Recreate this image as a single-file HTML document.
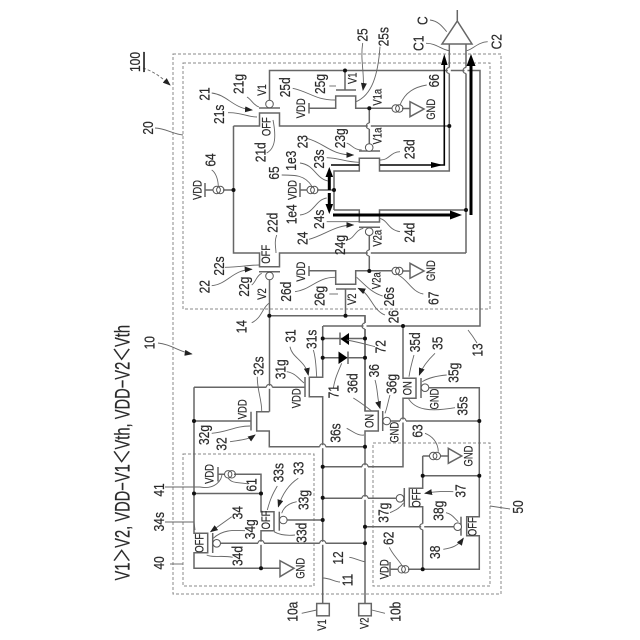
<!DOCTYPE html>
<html><head><meta charset="utf-8"><style>
html,body{margin:0;padding:0;background:#fff}
svg{display:block}
text{font-family:"Liberation Sans","Noto Sans CJK JP",sans-serif;fill:#2a2a2a;stroke:#2a2a2a;stroke-width:.2;text-anchor:middle;dominant-baseline:central}
.l text{font-size:15px}
.s text{font-size:11.5px}
.w{fill:none;stroke:#666;stroke-width:1.5}
.d{fill:none;stroke:#888;stroke-width:1;stroke-dasharray:3 2}
.t{fill:none;stroke:#666;stroke-width:.9}
.k{fill:none;stroke:#000;stroke-width:1.6}
.K{fill:none;stroke:#000;stroke-width:3}
</style></head><body>
<svg width="640" height="640" viewBox="0 0 640 640" xmlns="http://www.w3.org/2000/svg">
<defs>
<marker id="a" markerWidth="8" markerHeight="6" refX="7" refY="3" orient="auto" markerUnits="userSpaceOnUse"><path d="M0 0L8 3L0 6Z" fill="#222"/></marker>
<g id="bv"><path d="M0-3V3" stroke="#fff" stroke-width="3"/><path d="M0-3A3 3 0 0 0 0 3" fill="none" stroke="#666" stroke-width="1.2"/></g>
<g id="bh"><path d="M-3 0H3" stroke="#fff" stroke-width="3"/><path d="M-3 0A3 3 0 0 1 3 0" fill="none" stroke="#666" stroke-width="1.2"/></g>
<g id="cs"><circle cx="-1.8" cy="0" r="3.7" fill="#fff" stroke="#555"/><circle cx="1.8" cy="0" r="3.7" fill="none" stroke="#555"/></g>
</defs>
<rect class="d" x="173" y="54" width="328" height="540"/>
<rect class="d" x="183" y="63" width="307" height="246"/>
<rect class="d" x="183" y="454" width="131" height="132"/>
<rect class="d" x="373" y="443" width="117" height="143"/>

<g class="w">
<path d="M233.5 126H259.5V113H279.5V126H449.3"/>
<path d="M259 108H280"/>
<path d="M269.5 100V70.5H480V326H323"/>
<path d="M233.5 126V253H259.5V266.7H279.5V253H466"/>
<path d="M259 271.7H280"/>
<path d="M269.5 280V315.7H365V411"/>
<path d="M269.5 315.7V411.7"/>
<path d="M309 103V113.5M309 108.3H335.7V96H355.7V108.3H392"/>
<path d="M336 90H356M345 70.5V90"/>
<path d="M369.3 108.3V143.5"/>
<path d="M359 151H380"/>
<path d="M402 108.5H410"/>
<path d="M410 101.7V116.7L424 109Z" />
<path d="M334 210V171H359.3V158.3H379.5V171H449.3V44"/>
<path d="M334 210H359.3V222H379.5V210H466"/>
<path d="M359 227.3H380"/>
<path d="M369.3 236V271"/>
<path d="M466 44V253"/>
<path d="M309 266V276M309 270.7H335.7V284.3H355.7V270.7H392"/>
<path d="M336 289H356M345.5 289V315.7"/>
<path d="M402 271H410"/>
<path d="M410 263.3V278.3L424 271Z"/>
<path d="M205 183V197M205 190H214M223 190H233.5"/>
<path d="M300 183V197M300 190H308M317 190H334"/>
<path d="M457.3 10V21M442 44H472L457.3 21Z"/>
<path d="M322.7 326V377.3H309.3V396.7H322.7V603.5"/>
<path d="M305 377V397"/>
<path d="M194 387.3H305"/>
<path d="M194 387.3V533.3H207.7V552.7H194V568.3H280"/>
<path d="M212.7 533V553"/>
<path d="M280 560.7V576.7L294 568.3Z"/>
<path d="M365 315.7V411H378.3V431H365V603.5"/>
<path d="M382.7 411V431"/>
<path d="M390.7 421H479.3"/>
<path d="M322.7 338.5H365M322.7 357.7H365"/>
<path d="M340 332.5V345M348 351.5V364"/>
<path d="M403 326V378.3H416V398.3H403V466.7H322.7"/>
<path d="M421 378V398"/>
<path d="M429 387.7H479.3V516.7H466.7V535.7H479.3V569.3H408"/>
<path d="M461 516.7V535.7"/>
<path d="M365 526.7H454"/>
<path d="M194 421H251M251 411.7V430.5"/>
<path d="M269.3 411.7H256.7V431H269.3V446.7H365"/>
<path d="M194 493.5H261V474.3H234M218 467V481.5M218 474.3H226"/>
<path d="M261 493.5V511.7H274V530.7H261V568.3"/>
<path d="M279.3 511.7V530.7"/>
<path d="M287.3 520H322.7"/>
<path d="M220.7 543.3H365"/>
<path d="M322.7 498.3H396M404.3 488V506.7"/>
<path d="M422.7 456V488.3H409.3V506.7H422.7V569.3"/>
<path d="M422.7 456H431M440 456H448.3"/>
<path d="M448.3 448.3V463.3L461.7 456Z"/>
<path d="M422.7 475.7H479.3"/>
<path d="M390 562V576M390 569.3H399"/>
<rect x="316.7" y="603.5" width="12.6" height="12.3"/>
<rect x="358.7" y="603.5" width="12.6" height="12.3"/>
</g>
<g fill="#fff" stroke="#555" stroke-width="1">
<circle cx="269.5" cy="104" r="3.8"/><circle cx="369.2" cy="147.5" r="3.8"/><circle cx="369.2" cy="231.7" r="3.8"/><circle cx="269.5" cy="276" r="3.8"/>
<circle cx="425" cy="387.7" r="3.8"/><circle cx="386.7" cy="421" r="3.8"/><circle cx="283.3" cy="520" r="3.8"/><circle cx="216.7" cy="543.3" r="3.8"/><circle cx="400" cy="498.3" r="3.8"/><circle cx="457.7" cy="526.7" r="3.8"/>
</g>
<use href="#cs" x="397.5" y="108.5"/><use href="#cs" x="397.5" y="271"/><use href="#cs" x="218.5" y="190"/><use href="#cs" x="312.5" y="190"/><use href="#cs" x="230" y="474.3"/><use href="#cs" x="435" y="456"/><use href="#cs" x="403.5" y="569.3"/>
<use href="#bv" x="449.3" y="70.5"/><use href="#bv" x="466" y="70.5"/><use href="#bv" x="369.3" y="126"/><use href="#bv" x="369.3" y="253"/><use href="#bv" x="365" y="326"/><use href="#bv" x="422.7" y="526.7"/>
<use href="#bh" x="269.3" y="387.3"/><use href="#bh" x="322.7" y="446.7"/><use href="#bh" x="403" y="421"/><use href="#bh" x="365" y="466.7"/><use href="#bh" x="365" y="498.3"/><use href="#bh" x="261" y="543.3"/><use href="#bh" x="322.7" y="543.3"/>
<path class="k" d="M331 165H359M380 165H444.3V60"/>
<path d="M444.3 54L441 65H447.6Z" fill="#000"/>
<path d="M443 165L431 162V168Z" fill="#000"/>
<path class="K" d="M333 215H452M471 215V60"/>
<path d="M462 215L450 210.5V219.5Z" fill="#000"/>
<path d="M471 54L466.5 66H475.5Z" fill="#000"/>
<path class="K" d="M329.3 190V176M329.3 193V206"/>
<path d="M329.3 167L325.5 177H333.1Z" fill="#000"/>
<path d="M329.3 214L325.5 204H333.1Z" fill="#000"/>
<path d="M340.5 339L349 333V345Z" fill="#000"/><path d="M338.5 351.5L347.5 357.7L338.5 364Z" fill="#000"/>
<g fill="#111">
<circle cx="449.3" cy="126" r="2"/><circle cx="369.3" cy="108.3" r="2"/><circle cx="345" cy="70.5" r="2"/><circle cx="233.5" cy="190" r="2"/><circle cx="334" cy="190" r="2"/><circle cx="466" cy="210" r="2"/><circle cx="369.3" cy="271" r="2"/><circle cx="345.5" cy="315.7" r="2"/><circle cx="269.3" cy="315.7" r="2"/><circle cx="403" cy="326" r="2"/>
<circle cx="322.7" cy="338.5" r="2"/><circle cx="365" cy="338.5" r="2"/><circle cx="322.7" cy="357.7" r="2"/><circle cx="365" cy="357.7" r="2"/><circle cx="479.3" cy="421" r="2"/><circle cx="365" cy="446.7" r="2"/><circle cx="322.7" cy="466.7" r="2"/><circle cx="422.7" cy="475.7" r="2"/><circle cx="479.3" cy="475.7" r="2"/>
<circle cx="194" cy="421" r="2"/><circle cx="194" cy="493.5" r="2"/><circle cx="261" cy="493.5" r="2"/><circle cx="322.7" cy="497.8" r="2"/><circle cx="322.7" cy="520" r="2"/><circle cx="365" cy="526.7" r="2"/><circle cx="365" cy="543.3" r="2"/><circle cx="261" cy="568.3" r="2"/><circle cx="422.7" cy="569.3" r="2"/>
</g>
<g class="t">
<path d="M211.7 93C228 95 232 108 252 110" marker-end="url(#a)"/>
<path d="M247 97C252 100 253 105 259 107"/><path d="M228 112.7C240 112 248 117 257 117"/><path d="M266.7 153C276 148 276 135 273 120"/>
<path d="M292.7 88.3C310 92 315 100 335 100"/><path d="M329.3 86H336"/><path d="M362.7 43C360 60 365 75 363 90" marker-end="url(#a)"/><path d="M380 46.7C378 75 372 95 356 101.7"/><path d="M426.7 85C415 87 405 92 400 105"/>
<path d="M306.7 138.3C325 143 330 155 353.3 155" marker-end="url(#a)"/><path d="M346.7 143C352 145 354 150 361.7 150"/><path d="M326.7 157.7C340 158 345 162 359 162.3"/><path d="M300 163C315 165 315 178 328 181"/><path d="M380 160C390 160 390 152 400 151.7"/><path d="M281.7 175C295 175 305 175 311.7 186"/><path d="M211.7 170C215 172 218 178 218.3 186"/>
<path d="M300 215C315 213 315 200 326.7 198"/><path d="M326.7 221.7H359"/><path d="M309 239.3C325 235 335 225 353.3 225" marker-end="url(#a)"/><path d="M347.3 240C355 238 355 230 363.3 228.3"/><path d="M400 231.7C388 230 388 220 379.3 218.3"/>
<path d="M276.7 235C274 242 276 248 276 253"/><path d="M225 267.3C240 267 248 265 259.3 265"/><path d="M211.7 285.7C228 284 232 270 251.7 269.3" marker-end="url(#a)"/><path d="M251.7 285C256 282 256 276 261.7 273.3"/><path d="M251.7 322.7C262 318 262 308 269 303.3"/>
<path d="M295 291.7C310 290 318 277 335 277.3"/><path d="M329.3 294H338"/><path d="M382.7 296C372 293 365 285 356.7 277.3"/><path d="M385 315C372 310 372 295 358.3 288.3" marker-end="url(#a)"/><path d="M423.3 294C412 292 408 280 398.3 275"/>
<path d="M257.3 376.7C257 390 262 400 261.7 411.7"/><path d="M290 346.7C292 358 305 360 308.3 375" marker-end="url(#a)"/><path d="M313.3 350C316 358 316 368 316.7 376.7"/><path d="M286.7 371.7C295 373 298 378 304 383"/><path d="M211.7 433.3C228 432 235 426 250 426"/><path d="M230 441.7C240 440 248 440 255 435" marker-end="url(#a)"/><path d="M248.3 484C240 482 232 484 228.3 478.3"/>
<path d="M277.3 486C272 495 270 500 267.3 510"/><path d="M298.3 478.3C288 485 282 495 278.3 506.7" marker-end="url(#a)"/><path d="M296.7 501.7C290 503 284 506 281.7 513.3"/><path d="M295 535C285 536 278 534 274 531.7"/><path d="M231.7 516.7L210.7 531.7" marker-end="url(#a)"/><path d="M245 530.7C232 530 222 530 213.3 538.3"/><path d="M232.7 557.3C222 555 212 558 206.7 555"/>
<path d="M333.3 388.3C335 378 338 372 341.7 363.3"/><path d="M375 346.7C365 344 358 342 346.7 340"/><path d="M353.3 398C360 402 365 406 371.7 411"/><path d="M375 380C378 390 377 398 380 408.3" marker-end="url(#a)"/><path d="M390 395C388 402 387 408 385 413.3"/><path d="M346.7 428.3C354 432 358 436 364 435"/>
<path d="M414 355C412 362 410 370 409 376.7"/><path d="M435 353.3C428 360 422 368 419.3 375" marker-end="url(#a)"/><path d="M446.7 375C435 376 428 378 422.3 381.7"/><path d="M455 407.7C430 412 415 410 408.3 398.3"/><path d="M425 433.3C432 436 438 442 438.3 451.7"/><path d="M453.3 491.7C442 491 432 492 425 493.3" marker-end="url(#a)"/><path d="M390 512.7C396 510 400 508 403.3 503.3"/><path d="M446 512.7C452 514 454 518 458.3 521.7"/><path d="M443.3 549.3C452 548 458 546 463.3 538.3" marker-end="url(#a)"/><path d="M389.3 547.3C393 555 397 558 401.7 565"/>
<path d="M301.7 613.3L316.7 610"/><path d="M385 613.3L371.7 610"/><path d="M349.3 557.3C355 558 360 561 365 561.7"/><path d="M322.7 578C330 578 335 582 340 582"/>
<path d="M430 20C438 21 442 26 446.7 31.7"/><path d="M426 43.3C436 43 442 50 449.3 50.7"/><path d="M487.7 41.7C478 42 472 50 466.7 50.7"/>
<path d="M158 343C170 344 180 352 191.7 354" marker-end="url(#a)"/><path d="M155 128C165 128 172 134 183 135"/><path d="M165 487H200C215 490 222 480 222 474"/><path d="M165 522H194L195 530"/><path d="M170 564H183"/><path d="M468 330C472 335 474 338 477 343"/><path d="M490 506L510 509" /><path d="M143 68C155 72 162 78 170 85" stroke-dasharray="3 2" marker-end="url(#a)"/>
</g>
<g class="l">
<text transform="matrix(0 -.8 1 0 204.3 94)">21</text><text transform="matrix(0 -.8 1 0 238.3 84)">21g</text><text transform="matrix(0 -.8 1 0 285 87.3)">25d</text><text transform="matrix(0 -.8 1 0 320 84)">25g</text><text transform="matrix(0 -.8 1 0 219 114.3)">21s</text><text transform="matrix(0 -.8 1 0 260.7 152.3)">21d</text><text transform="matrix(0 -.8 1 0 302.3 141.7)">23</text><text transform="matrix(0 -.8 1 0 319 159)">23s</text><text transform="matrix(0 -.8 1 0 291 160.7)">1e3</text><text transform="matrix(0 -.8 1 0 210.7 160)">64</text><text transform="matrix(0 -.8 1 0 274 173)">65</text>
<text transform="matrix(0 -.8 1 0 362.7 35)">25</text><text transform="matrix(0 -.8 1 0 383.3 36.7)">25s</text><text transform="matrix(0 -.8 1 0 434 80.7)">66</text><text transform="matrix(0 -.8 1 0 409.3 149.3)">23d</text><text transform="matrix(0 -.8 1 0 422.7 20.7)">C</text><text transform="matrix(0 -.8 1 0 418.3 43.3)">C1</text><text transform="matrix(0 -.8 1 0 496.7 41.7)">C2</text><text transform="matrix(0 -.8 1 0 340 138.3)">23g</text>
<text transform="matrix(0 -.8 1 0 272.7 222.7)">22d</text><text transform="matrix(0 -.8 1 0 291.7 214.3)">1e4</text><text transform="matrix(0 -.8 1 0 319 219.3)">24s</text><text transform="matrix(0 -.8 1 0 302.3 238.3)">24</text><text transform="matrix(0 -.8 1 0 219 266)">22s</text><text transform="matrix(0 -.8 1 0 204.3 286.7)">22</text><text transform="matrix(0 -.8 1 0 244 286.7)">22g</text><text transform="matrix(0 -.8 1 0 286 291.7)">26d</text><text transform="matrix(0 -.8 1 0 319.3 296)">26g</text><text transform="matrix(0 -.8 1 0 241.7 326.7)">14</text><text transform="matrix(0 -.8 1 0 340 245)">24g</text>
<text transform="matrix(0 -.8 1 0 409.3 232.7)">24d</text><text transform="matrix(0 -.8 1 0 433.3 298.3)">67</text><text transform="matrix(0 -.8 1 0 389 296.7)">26s</text><text transform="matrix(0 -.8 1 0 393.3 316.7)">26</text>
<text transform="matrix(0 -.8 1 0 149.3 342.7)">10</text><text transform="matrix(0 -.8 1 0 159 490)">41</text><text transform="matrix(0 -.8 1 0 159 521.7)">34s</text><text transform="matrix(0 -.8 1 0 159 563)">40</text><text transform="matrix(0 -.8 1 0 148 128)">20</text><text transform="matrix(0 -.8 1 0 135 62)" text-decoration="underline">100</text>
<text transform="matrix(0 -.8 1 0 258.3 366)">32s</text><text transform="matrix(0 -.8 1 0 290.7 336)">31</text><text transform="matrix(0 -.8 1 0 311.7 339.3)">31s</text><text transform="matrix(0 -.8 1 0 280.7 369.3)">31g</text><text transform="matrix(0 -.8 1 0 333.3 391.7)">71</text><text transform="matrix(0 -.8 1 0 335.7 433)">36s</text><text transform="matrix(0 -.8 1 0 204 435)">32g</text><text transform="matrix(0 -.8 1 0 221.7 444)">32</text><text transform="matrix(0 -.8 1 0 251.7 485)">61</text><text transform="matrix(0 -.8 1 0 278.3 472.7)">33s</text><text transform="matrix(0 -.8 1 0 298.3 468.3)">33</text>
<text transform="matrix(0 -.8 1 0 380.7 346.7)">72</text><text transform="matrix(0 -.8 1 0 415 342.3)">35d</text><text transform="matrix(0 -.8 1 0 437.3 343.3)">35</text><text transform="matrix(0 -.8 1 0 453.3 372.7)">35g</text><text transform="matrix(0 -.8 1 0 352.7 383.3)">36d</text><text transform="matrix(0 -.8 1 0 374 370.7)">36</text><text transform="matrix(0 -.8 1 0 391.7 384)">36g</text><text transform="matrix(0 -.8 1 0 462.3 406)">35s</text><text transform="matrix(0 -.8 1 0 417.3 431)">63</text><text transform="matrix(0 -.8 1 0 477.3 350)">13</text><text transform="matrix(0 -.8 1 0 460.7 491)">37</text>
<text transform="matrix(0 -.8 1 0 303.3 500)">33g</text><text transform="matrix(0 -.8 1 0 237.7 512.7)">34</text><text transform="matrix(0 -.8 1 0 250 529.3)">34g</text><text transform="matrix(0 -.8 1 0 301.7 532.7)">33d</text><text transform="matrix(0 -.8 1 0 237.7 556)">34d</text><text transform="matrix(0 -.8 1 0 292.3 611.7)">10a</text><text transform="matrix(0 -.8 1 0 338 558)">12</text><text transform="matrix(0 -.8 1 0 347.3 580)">11</text>
<text transform="matrix(0 -.8 1 0 383.3 512.7)">37g</text><text transform="matrix(0 -.8 1 0 438.3 510.7)">38g</text><text transform="matrix(0 -.8 1 0 435 552.3)">38</text><text transform="matrix(0 -.8 1 0 388.3 538.3)">62</text><text transform="matrix(0 -.8 1 0 395.7 611.7)">10b</text><text transform="matrix(0 -.8 1 0 518 507)">50</text>
</g>
<g class="s">
<text transform="matrix(0 -.82 1 0 262.7 90)">V1</text><text transform="matrix(0 -.82 1 0 301.7 108.3)">VDD</text><text transform="matrix(0 -.82 1 0 267.3 126.7)">OFF</text><text transform="matrix(0 -.82 1 0 353.3 78.3)">V1</text><text transform="matrix(0 -.82 1 0 378.3 97.3)">V1a</text><text transform="matrix(0 -.82 1 0 431.7 109.3)">GND</text><text transform="matrix(0 -.82 1 0 378.3 136)">V1a</text><text transform="matrix(0 -.82 1 0 293.3 190)">VDD</text><text transform="matrix(0 -.82 1 0 198.3 190)">VDD</text>
<text transform="matrix(0 -.82 1 0 266.7 254.3)">OFF</text><text transform="matrix(0 -.82 1 0 262.7 294)">V2</text><text transform="matrix(0 -.82 1 0 301.7 271.7)">VDD</text><text transform="matrix(0 -.82 1 0 378.3 238.3)">V2a</text><text transform="matrix(0 -.82 1 0 431.7 270.7)">GND</text><text transform="matrix(0 -.82 1 0 377.3 280.7)">V2a</text><text transform="matrix(0 -.82 1 0 352.7 299.3)">V2</text>
<text transform="matrix(0 -.82 1 0 297.3 398.3)">VDD</text><text transform="matrix(0 -.82 1 0 243.3 409.3)">VDD</text><text transform="matrix(0 -.82 1 0 210 474)">VDD</text><text transform="matrix(0 -.82 1 0 408.3 388.3)">ON</text><text transform="matrix(0 -.82 1 0 435 399)">GND</text><text transform="matrix(0 -.82 1 0 370 421)">ON</text><text transform="matrix(0 -.82 1 0 395 432.3)">GND</text><text transform="matrix(0 -.82 1 0 469.3 456)">GND</text>
<text transform="matrix(0 -.82 1 0 266.7 520)">OFF</text><text transform="matrix(0 -.82 1 0 200 543.3)">OFF</text><text transform="matrix(0 -.82 1 0 301 568.3)">GND</text><text transform="matrix(0 -.82 1 0 322.7 625)">V1</text><text transform="matrix(0 -.82 1 0 417.3 498.3)">OFF</text><text transform="matrix(0 -.82 1 0 473.3 526.7)">OFF</text><text transform="matrix(0 -.82 1 0 385 569.3)">VDD</text><text transform="matrix(0 -.82 1 0 365 623.3)">V2</text>
</g>
<text transform="matrix(0 -.7 1 0 122.5 325)" style="font-size:21px;text-anchor:end">V1＞V2, VDD−V1＜Vth, VDD−V2＜Vth</text>
</svg>
</body></html>
